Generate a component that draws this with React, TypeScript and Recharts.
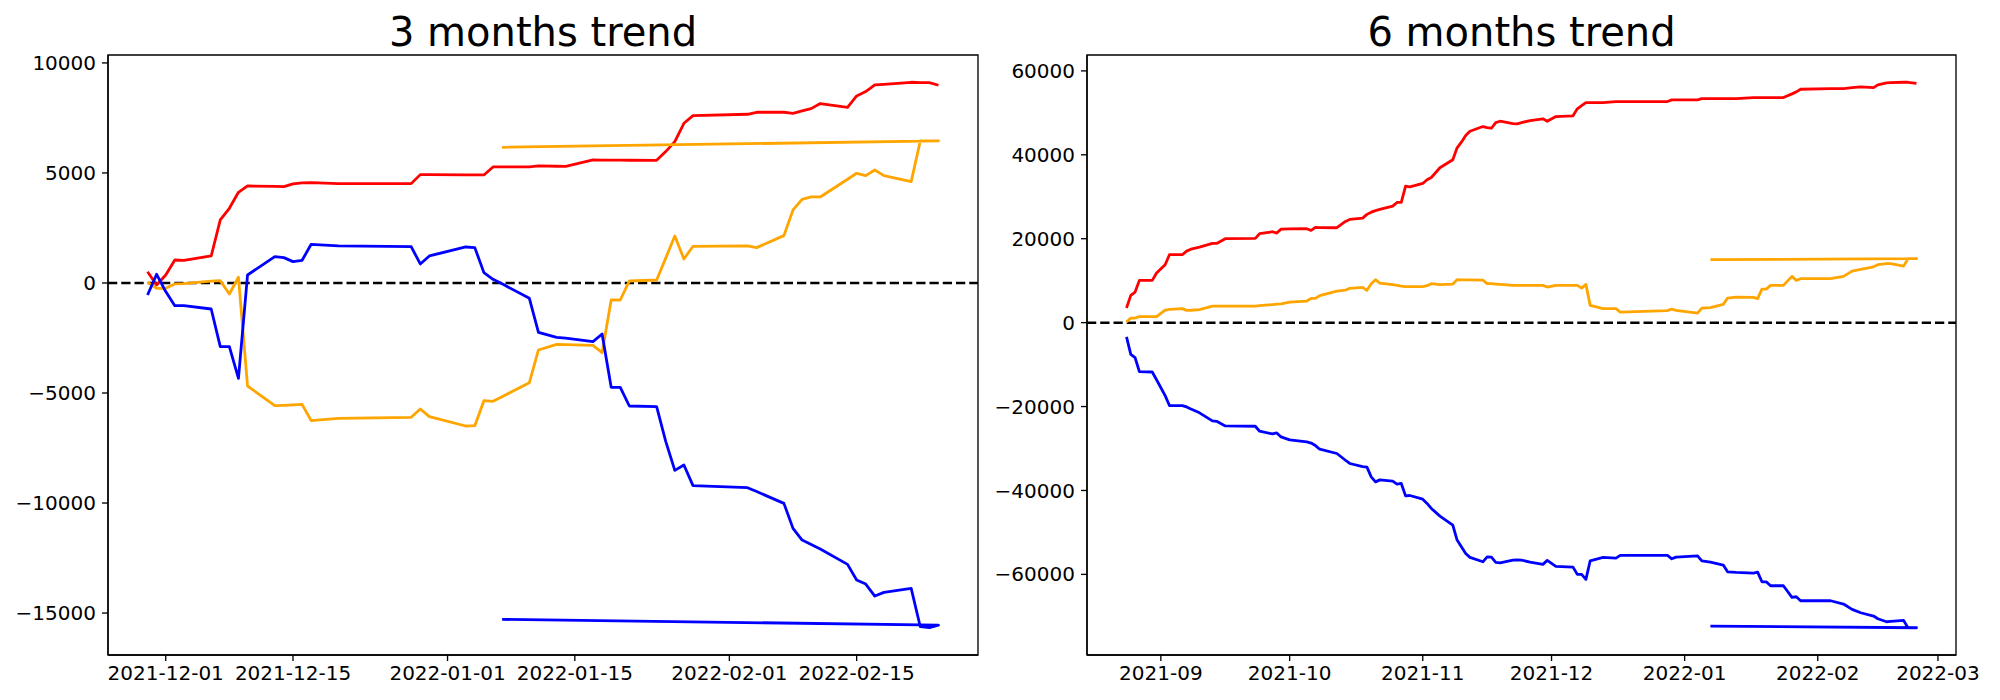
import { LineChart, Line, XAxis, YAxis, ReferenceLine, ReferenceArea } from 'recharts';

const FONT = 'DejaVu Sans, Verdana, sans-serif';
const RED = '#ff0000';
const ORANGE = '#ffa500';
const BLUE = '#0000ff';

// 3 months panel, days counted from 2021-12-01
const shortBase = '2021-12-01';
const shortDays = [
  -2, -1, 0, 1, 2, 5, 6, 7, 8, 9, 12, 13, 14, 15, 16, 19, 27, 28, 29, 33, 34, 35, 36, 37, 40, 41, 43,
  44, 47, 48, 49, 50, 51, 54, 55, 56, 57, 58, 64, 65, 68, 69, 70, 71, 72, 75, 76, 77, 78, 79, 82, 83,
  84, 85,
];
const shortRed = [
  514, -91, 364, 1045, 1030, 1227, 2864, 3394, 4121, 4409, 4390, 4379, 4500, 4550, 4560, 4515, 4515,
  4924, 4920, 4910, 4909, 4909, 5273, 5273, 5273, 5318, 5305, 5303, 5591, 5585, 5582, 5580, 5578,
  5576, 5970, 6424, 7258, 7606, 7667, 7758, 7758, 7712, 7820, 7924, 8152, 7985, 8500, 8697, 9000,
  9030, 9121, 9106, 9106, 8985,
];
const shortOrange = [
  32, -242, -242, -45, -30, 80, 105, -500, 259, -4682, -5576, -5560, -5540, -5515, -6258, -6152,
  -6106, -5727, -6076, -6500, -6485, -5348, -5379, -5170, -4530, -3045, -2788, -2800, -2833, -3167,
  -773, -773, 91, 136, 1130, 2136, 1091, 1667, 1682, 1606, 2152, 3318, 3803, 3909, 3909, 4715, 4985,
  4879, 5136, 4879, 4606, 6455, 6455, 6455,
];
const shortBlue = [
  -545, 394, -390, -1030, -1030, -1182, -2894, -2894, -4333, 364, 1197, 1152, 970, 1030, 1758, 1682,
  1652, 864, 1227, 1636, 1606, 470, 167, -40, -697, -2242, -2470, -2510, -2667, -2318, -4742, -4742,
  -5591, -5621, -7197, -8515, -8273, -9212, -9303, -9480, -10015, -11151, -11682, -11886, -12090,
  -12788, -13500, -13682, -14227, -14061, -13879, -15621, -15667, -15545,
];
// orange and blue end with a point back on 2022-01-07
const shortWrapDay = 37;
const shortOrangeWrap = 6167;
const shortBlueWrap = -15288;
const shortTicks = ['2021-12-01', '2021-12-15', '2022-01-01', '2022-01-15', '2022-02-01', '2022-02-15'];
const shortYTicks = [-15000, -10000, -5000, 0, 5000, 10000];

// 6 months panel, days counted from 2021-09-01
const longBase = '2021-09-01';
const longDays = [
  -8, -7, -6, -5, -2, -1, 1, 2, 5, 6, 7, 9, 12, 13, 15, 22, 23, 26, 27, 28, 30, 34, 35, 36, 37, 41, 43,
  44, 47, 48, 49, 50, 51, 54, 55, 56, 57, 58, 61, 62, 63, 65, 68, 69, 70, 71, 72, 75, 76, 77, 78, 79,
  82, 83, 84, 86, 89, 90, 92, 96, 97, 98, 99, 100, 103, 106, 107, 118, 119, 120, 125, 126, 128, 131,
  132, 134, 138, 139, 140, 141, 142, 145, 147, 148, 149, 156, 159, 161, 163, 166, 167, 169, 170, 173,
  174, 176,
];
const longRed = [
  3476, 6500, 7286, 10071, 10071, 11810, 13810, 16190, 16190, 17048, 17500, 18000, 18881, 18881,
  20000, 20072, 21190, 21667, 21350, 22286, 22350, 22381, 21976, 22690, 22650, 22619, 24119, 24595,
  24905, 25800, 26333, 26700, 26976, 27762, 28643, 28643, 32524, 32381, 33167, 34048, 34595, 36905,
  38810, 41667, 43000, 44595, 45619, 46738, 46500, 46333, 47690, 48000, 47452, 47381, 47690, 48167,
  48571, 48000, 49119, 49286, 50952, 51700, 52452, 52452, 52452, 52690, 52690, 52690, 53095, 53095,
  53095, 53405, 53405, 53405, 53405, 53405, 53643, 53643, 53643, 53643, 53643, 53643, 54524, 55000,
  55619, 55786, 55786, 56000, 56190, 56024, 56667, 57143, 57200, 57286, 57286, 57048,
];
const longOrange = [
  143, 1095, 1095, 1429, 1429, 1429, 3000, 3167, 3333, 2929, 2950, 3095, 3952, 3952, 3952, 3952, 4050,
  4300, 4400, 4450, 4905, 5143, 5786, 5786, 6429, 7524, 7762, 8167, 8400, 7690, 9286, 10238, 9429,
  9048, 8900, 8700, 8571, 8571, 8571, 8800, 9286, 9048, 9200, 10238, 10200, 10200, 10190, 10143, 9286,
  9300, 9200, 9119, 8900, 8881, 8881, 8881, 8881, 8476, 8881, 8881, 8881, 8238, 9119, 4119, 3333, 3333,
  2524, 2857, 3238, 2929, 2286, 3476, 3571, 4357, 5857, 6095, 6024, 5714, 8000, 8000, 8881, 8881,
  11024, 10071, 10476, 10476, 11024, 12286, 12690, 13300, 13810, 14048, 14048, 13476, 15238, 15238,
];
const longBlue = [
  -3400, -7548, -8333, -11667, -11762, -13600, -17400, -19762, -19762, -20095, -20600, -21500, -23429,
  -23524, -24619, -24690, -25881, -26524, -26286, -27238, -27952, -28429, -28700, -29300, -30167,
  -31190, -32800, -33571, -34300, -34452, -36762, -37952, -37476, -37786, -38500, -38333, -41286,
  -41200, -42071, -43095, -44286, -46119, -48262, -51833, -53429, -55000, -55952, -57000, -55810,
  -55900, -57143, -57238, -56595, -56524, -56600, -57071, -57619, -56667, -58095, -58262, -60000,
  -60000, -61190, -56762, -55952, -56119, -55476, -55476, -56286, -55881, -55571, -56762, -57100,
  -57786, -59381, -59524, -59690, -59452, -61762, -61762, -62714, -62714, -65476, -65333, -66286,
  -66286, -67071, -68333, -69143, -69929, -70571, -71286, -71200, -70952, -72714, -72714,
];
const longWrapDay = 128;
const longOrangeWrap = 15000;
const longBlueWrap = -72310;
const longTicks = ['2021-09-01', '2021-10-01', '2021-11-01', '2021-12-01', '2022-01-01', '2022-02-01', '2022-03-01'];
const longYTicks = [-60000, -40000, -20000, 0, 20000, 40000, 60000];

const MS_DAY = 86400000;

function toDay(s: string) {
  const [y, m, d] = s.split('-').map(Number);
  return Date.UTC(y, m - 1, d) / MS_DAY;
}

function buildSeries(base: string, days: number[], values: number[], wrap?: [number, number]) {
  const b = toDay(base);
  const pts = days.map((d, i) => ({ x: b + d, y: values[i] }));
  if (wrap) pts.push({ x: b + wrap[0], y: wrap[1] });
  return pts;
}

// matplotlib-style 5% margins
function padded(vals: number[]): [number, number] {
  const lo = Math.min(...vals);
  const hi = Math.max(...vals);
  const r = hi - lo;
  return [lo - 0.05 * r, hi + 0.05 * r];
}

const fmtY = (v: number) => (v < 0 ? '\u2212' + Math.abs(v) : String(v));

interface SeriesDef {
  color: string;
  data: { x: number; y: number }[];
}

interface PanelProps {
  title: string;
  left: number;
  width: number;
  marginLeft: number;
  marginRight: number;
  series: SeriesDef[];
  xTicks: string[];
  yTicks: number[];
  showDay: boolean;
}

function Panel({ title, left, width, marginLeft, marginRight, series, xTicks, yTicks, showDay }: PanelProps) {
  const all = series.flatMap((s) => s.data);
  const xDomain = padded(all.map((p) => p.x));
  const yDomain = padded(all.map((p) => p.y));
  const tickStyle = { fontSize: 20, fill: '#000', fontFamily: FONT };
  const axisStroke = { stroke: '#000', strokeWidth: 1.33 };
  const plotLeft = marginLeft + 100;
  const plotWidth = width - plotLeft - marginRight;

  return (
    <div style={{ position: 'absolute', left, top: 0, width, height: 700 }}>
      <div
        style={{
          position: 'absolute',
          left: plotLeft,
          top: 12,
          width: plotWidth,
          textAlign: 'center',
          fontFamily: FONT,
          fontSize: 40,
          lineHeight: '40px',
          color: '#000',
        }}
      >
        {title}
      </div>
      <LineChart width={width} height={700} margin={{ top: 55, right: marginRight, bottom: 5, left: marginLeft }}>
        <XAxis
          type="number"
          dataKey="x"
          domain={xDomain}
          allowDataOverflow
          ticks={xTicks.map(toDay)}
          interval={0}
          tickFormatter={(v: number) => new Date(Math.round(v) * MS_DAY).toISOString().slice(0, showDay ? 10 : 7)}
          height={40}
          tickSize={6}
          tickMargin={5}
          tick={tickStyle}
          axisLine={axisStroke}
          tickLine={axisStroke}
        />
        <YAxis
          type="number"
          domain={yDomain}
          allowDataOverflow
          ticks={yTicks}
          interval={0}
          tickFormatter={fmtY}
          width={100}
          tickSize={6}
          tickMargin={6}
          tick={tickStyle}
          axisLine={axisStroke}
          tickLine={axisStroke}
        />
        <ReferenceArea
          x1={xDomain[0]}
          x2={xDomain[1]}
          y1={yDomain[0]}
          y2={yDomain[1]}
          fill="none"
          fillOpacity={0}
          stroke="#000"
          strokeWidth={1.33}
          ifOverflow="visible"
        />
        <ReferenceLine y={0} stroke="#000" strokeWidth={2.5} strokeDasharray="9.25 4" />
        {series.map((s, i) => (
          <Line
            key={i}
            data={s.data}
            dataKey="y"
            type="linear"
            stroke={s.color}
            strokeWidth={2.8}
            strokeLinejoin="round"
            dot={false}
            activeDot={false}
            isAnimationActive={false}
          />
        ))}
      </LineChart>
    </div>
  );
}

export default function App() {
  const shortSeries: SeriesDef[] = [
    { color: RED, data: buildSeries(shortBase, shortDays, shortRed) },
    { color: ORANGE, data: buildSeries(shortBase, shortDays, shortOrange, [shortWrapDay, shortOrangeWrap]) },
    { color: BLUE, data: buildSeries(shortBase, shortDays, shortBlue, [shortWrapDay, shortBlueWrap]) },
  ];
  const longSeries: SeriesDef[] = [
    { color: RED, data: buildSeries(longBase, longDays, longRed) },
    { color: ORANGE, data: buildSeries(longBase, longDays, longOrange, [longWrapDay, longOrangeWrap]) },
    { color: BLUE, data: buildSeries(longBase, longDays, longBlue, [longWrapDay, longBlueWrap]) },
  ];

  return (
    <div style={{ position: 'fixed', left: 0, top: 0, width: 2000, height: 700, background: '#fff' }}>
      <Panel
        title="3 months trend"
        left={0}
        width={1000}
        marginLeft={8}
        marginRight={22}
        series={shortSeries}
        xTicks={shortTicks}
        yTicks={shortYTicks}
        showDay
      />
      <Panel
        title="6 months trend"
        left={980}
        width={1020}
        marginLeft={7}
        marginRight={44}
        series={longSeries}
        xTicks={longTicks}
        yTicks={longYTicks}
        showDay={false}
      />
    </div>
  );
}
